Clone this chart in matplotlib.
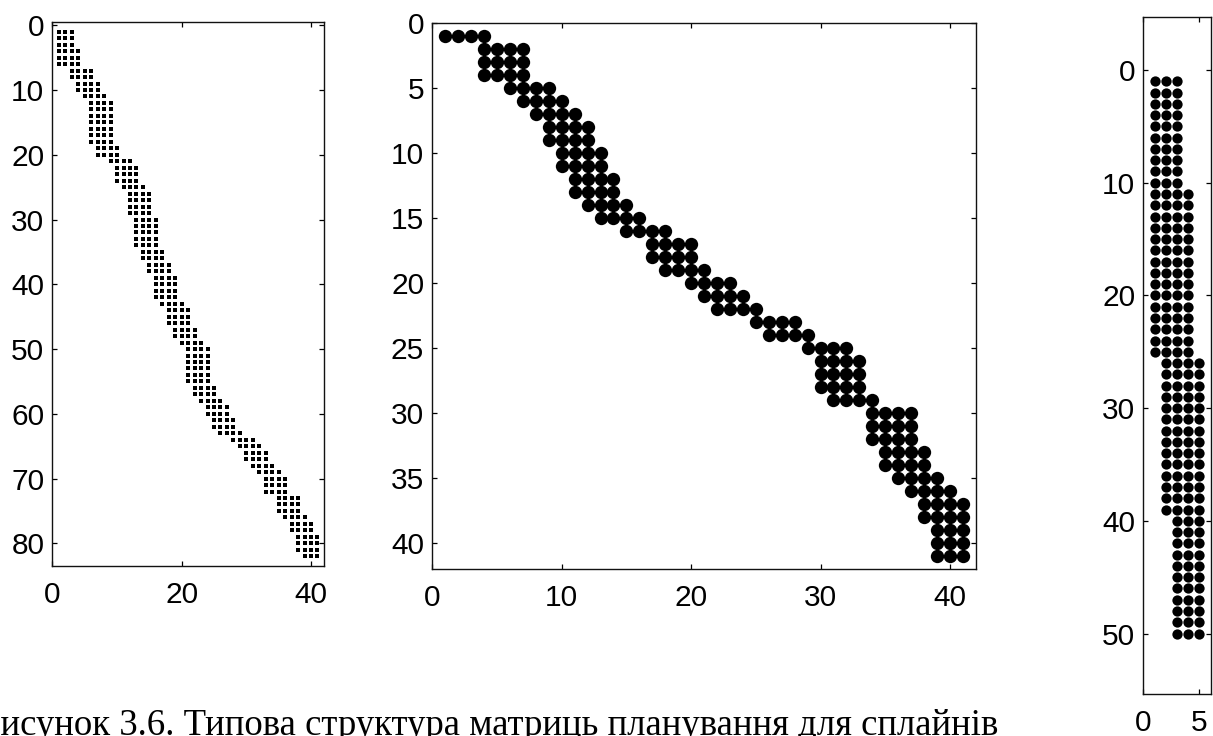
import matplotlib
matplotlib.use("Agg")
import matplotlib.pyplot as plt
import numpy as np

W, H = 1213, 736

# ---------------- data (sparsity patterns, 1-based row/column indices) ----------------
# Panel 1: 82 x 41 matrix - first nonzero column and number of nonzeros in each row
left_first = [1, 1, 1, 1, 1, 1, 3, 3, 4, 4, 5, 6, 6, 6, 6, 6, 6, 6, 7, 7,
              9, 10, 10, 10, 11, 12, 12, 12, 12, 13, 13, 13, 13, 13, 14, 14, 15, 15, 16, 16,
              16, 16, 17, 18, 18, 18, 19, 19, 20, 21, 21, 21, 21, 21, 21, 22, 22, 23, 24, 24,
              25, 25, 26, 28, 29, 30, 30, 31, 32, 33, 33, 33, 35, 35, 35, 36, 37, 37, 38, 38,
              38, 39]
left_count = [3, 3, 3, 4, 4, 4, 4, 4, 4, 4, 4, 4, 4, 4, 4, 4, 4, 4, 4, 4,
              4, 4, 4, 4, 4, 4, 4, 4, 4, 4, 4, 4, 4, 4, 4, 4, 4, 4, 4, 4,
              4, 4, 4, 4, 4, 4, 4, 4, 4, 4, 4, 4, 4, 4, 4, 4, 4, 4, 4, 4,
              4, 4, 4, 4, 4, 4, 4, 4, 4, 4, 4, 4, 4, 4, 4, 4, 4, 4, 4, 4,
              4, 3]

# Panel 2: 41 x 41 matrix
mid_first = [1, 4, 4, 4, 6, 7, 8, 9, 9, 10, 10, 11, 11, 12, 13, 15, 17, 17, 18, 20,
             21, 22, 25, 26, 29, 30, 30, 30, 31, 34, 34, 34, 35, 35, 36, 37, 38, 38, 39, 39,
             39]
mid_count = [4, 4, 4, 4, 4, 4, 4, 4, 4, 4, 4, 4, 4, 4, 4, 4, 4, 4, 4, 4,
             4, 4, 4, 4, 4, 4, 4, 4, 4, 4, 4, 4, 4, 4, 4, 4, 4, 4, 3, 3,
             3]

# Panel 3: 50 x 5 matrix
right_first = [1, 1, 1, 1, 1, 1, 1, 1, 1, 1,
               1, 1, 1, 1, 1, 1, 1, 1, 1, 1, 1, 1, 1, 1, 1,
               2, 2, 2, 2, 2, 2, 2, 2, 2, 2, 2, 2, 2, 2,
               3, 3, 3, 3, 3, 3, 3, 3, 3, 3, 3]
right_count = [3, 3, 3, 3, 3, 3, 3, 3, 3, 3,
               4, 4, 4, 4, 4, 4, 4, 4, 4, 4, 4, 4, 4, 4, 4,
               4, 4, 4, 4, 4, 4, 4, 4, 4, 4, 4, 4, 4, 4,
               3, 3, 3, 3, 3, 3, 3, 3, 3, 3, 3]

left_xticks = [0, 20, 40]
left_yticks = [0, 10, 20, 30, 40, 50, 60, 70, 80]
mid_xticks = [0, 10, 20, 30, 40]
mid_yticks = [0, 5, 10, 15, 20, 25, 30, 35, 40]
right_xticks = [0, 5]
right_yticks = [0, 10, 20, 30, 40, 50]

caption = "Рисунок 3.6. Типова структура матриць планування для сплайнів"


def pattern(first, count):
    rows, cols = [], []
    for r, (f, n) in enumerate(zip(first, count), start=1):
        for c in range(f, f + n):
            rows.append(r)
            cols.append(c)
    return np.array(cols), np.array(rows)


plt.rcParams["font.family"] = ["Liberation Sans", "DejaVu Sans"]

fig = plt.figure(figsize=(W / 100, H / 100), dpi=100)
fig.patch.set_facecolor("white")


def make_axes(x0, x1, ytop, ybot):
    return fig.add_axes([x0 / W, 1 - ybot / H, (x1 - x0) / W, (ybot - ytop) / H])


def style(ax, xt, yt, xlim, ylim):
    ax.set_xlim(*xlim)
    ax.set_ylim(*ylim)
    ax.set_xticks(xt)
    ax.set_yticks(yt)
    ax.tick_params(direction="in", length=3.4, width=0.9, top=True, right=True,
                   labelsize=21.5, colors="black")
    ax.tick_params(axis="x", pad=10.5)
    ax.tick_params(axis="y", pad=5.8)
    for s in ax.spines.values():
        s.set_linewidth(1.0)
        s.set_color("#111111")


# left panel
axL = make_axes(52.4, 323.9, 22.0, 566.0)
cx, ry = pattern(left_first, left_count)
axL.plot(cx, ry, ls="none", marker="s", ms=2.2, mew=0, color="black")
style(axL, left_xticks, left_yticks, (0, 42), (83.5, -0.5))

# middle panel
axM = make_axes(432.3, 975.8, 23.3, 569.3)
cx, ry = pattern(mid_first, mid_count)
axM.plot(cx, ry, ls="none", marker="o", ms=9.6, mew=0, color="black")
style(axM, mid_xticks, mid_yticks, (0, 42), (42, 0))

# right panel
axR = make_axes(1143.3, 1210.5, 16.5, 694.4)
cx, ry = pattern(right_first, right_count)
axR.plot(cx, ry, ls="none", marker="o", ms=7.4, mew=0, color="black")
style(axR, right_xticks, right_yticks, (0, 6), (55.4, -4.75))

fig.text(-20.5 / W, 1 - 735 / H, caption, fontsize=26.5, family="Liberation Serif",
         ha="left", va="baseline", color="black")

fig.savefig("out.png", dpi=100, facecolor="white")
